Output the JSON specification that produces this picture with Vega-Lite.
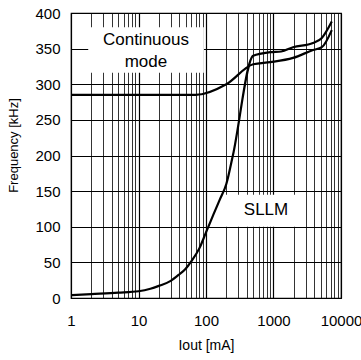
{
  "$schema": "https://vega.github.io/schema/vega-lite/v6.json",
  "width": 270,
  "height": 285,
  "autosize": {"type": "none"},
  "padding": {"left": 71, "top": 13, "right": 20, "bottom": 62},
  "background": "white",
  "config": {
    "font": "Liberation Sans",
    "view": {"stroke": "black", "strokeWidth": 1.2},
    "axis": {"ticks": false, "domain": false, "labelColor": "black", "titleColor": "black", "labelFont": "Liberation Sans", "titleFont": "Liberation Sans", "titleFontWeight": "normal"}
  },
  "datasets": {
    "curves": [
      {"series": "Continuous", "iout": 1, "freq": 285},
      {"series": "Continuous", "iout": 70, "freq": 285},
      {"series": "Continuous", "iout": 200, "freq": 300},
      {"series": "Continuous", "iout": 500, "freq": 328},
      {"series": "Continuous", "iout": 900, "freq": 331},
      {"series": "Continuous", "iout": 1950, "freq": 337},
      {"series": "Continuous", "iout": 3850, "freq": 348},
      {"series": "Continuous", "iout": 5200, "freq": 352},
      {"series": "Continuous", "iout": 7300, "freq": 376},
      {"series": "SLLM", "iout": 1, "freq": 4},
      {"series": "SLLM", "iout": 2, "freq": 5.5},
      {"series": "SLLM", "iout": 5, "freq": 7.5},
      {"series": "SLLM", "iout": 10, "freq": 9.5},
      {"series": "SLLM", "iout": 15, "freq": 13},
      {"series": "SLLM", "iout": 20, "freq": 17},
      {"series": "SLLM", "iout": 30, "freq": 24},
      {"series": "SLLM", "iout": 40, "freq": 33},
      {"series": "SLLM", "iout": 50, "freq": 41},
      {"series": "SLLM", "iout": 60, "freq": 51},
      {"series": "SLLM", "iout": 80, "freq": 70},
      {"series": "SLLM", "iout": 100, "freq": 92},
      {"series": "SLLM", "iout": 130, "freq": 118},
      {"series": "SLLM", "iout": 160, "freq": 138},
      {"series": "SLLM", "iout": 200, "freq": 160},
      {"series": "SLLM", "iout": 250, "freq": 200},
      {"series": "SLLM", "iout": 500, "freq": 340},
      {"series": "SLLM", "iout": 900, "freq": 345},
      {"series": "SLLM", "iout": 1300, "freq": 346},
      {"series": "SLLM", "iout": 1950, "freq": 352},
      {"series": "SLLM", "iout": 3850, "freq": 358},
      {"series": "SLLM", "iout": 5200, "freq": 365},
      {"series": "SLLM", "iout": 7300, "freq": 388}
    ],
    "boxes": [
      {"iout": 1.8, "iout2": 93, "freq": 316, "freq2": 380},
      {"iout": 195, "iout2": 2500, "freq": 100, "freq2": 145}
    ],
    "labels": [
      {"label": "Continuous", "iout": 12.9, "freq": 362},
      {"label": "mode", "iout": 12.9, "freq": 331},
      {"label": "SLLM", "iout": 774, "freq": 123}
    ]
  },
  "encoding": {
    "x": {
      "field": "iout", "type": "quantitative",
      "scale": {"type": "log", "domain": [1, 10000], "nice": false},
      "axis": {
        "title": "Iout [mA]",
        "values": [1,2,3,4,5,6,7,8,9,10,20,30,40,50,60,70,80,90,100,200,300,400,500,600,700,800,900,1000,2000,3000,4000,5000,6000,7000,8000,9000,10000],
        "labelExpr": "indexof([1,10,100,1000,10000], datum.value) >= 0 ? format(datum.value, 'd') : ''",
        "grid": true,
        "gridColor": "black",
        "gridOpacity": 1,
        "gridWidth": {"condition": {"test": "indexof([1,10,100,1000,10000], datum.value) >= 0", "value": 1.2}, "value": 0.8},
        "labelFontSize": 15,
        "labelPadding": 15,
        "labelFlush": false,
        "labelOverlap": false,
        "titleFontSize": 14,
        "titlePadding": 10
      }
    },
    "y": {
      "field": "freq", "type": "quantitative",
      "scale": {"domain": [0, 400], "nice": false},
      "axis": {
        "title": "Frequency [kHz]",
        "values": [0,50,100,150,200,250,300,350,400],
        "grid": true,
        "gridColor": "black",
        "gridOpacity": 1,
        "gridWidth": 1.2,
        "labelFontSize": 15,
        "labelPadding": 11,
        "labelOverlap": false,
        "labelFlush": false,
        "titleFontSize": 13,
        "titlePadding": 14,
        "titleY": 132
      }
    }
  },
  "layer": [
    {
      "data": {"name": "boxes"},
      "mark": {"type": "rect", "fill": "white", "stroke": null},
      "encoding": {
        "x2": {"field": "iout2"},
        "y2": {"field": "freq2"}
      }
    },
    {
      "data": {"name": "curves"},
      "mark": {"type": "line", "color": "black", "strokeWidth": 2.2, "interpolate": "monotone"},
      "encoding": {
        "detail": {"field": "series"},
        "order": {"field": "iout", "type": "quantitative"}
      }
    },
    {
      "data": {"name": "labels"},
      "mark": {"type": "text", "fontSize": 17, "color": "black", "align": "center", "baseline": "middle", "font": "Liberation Sans"},
      "encoding": {
        "text": {"field": "label"}
      }
    }
  ]
}
